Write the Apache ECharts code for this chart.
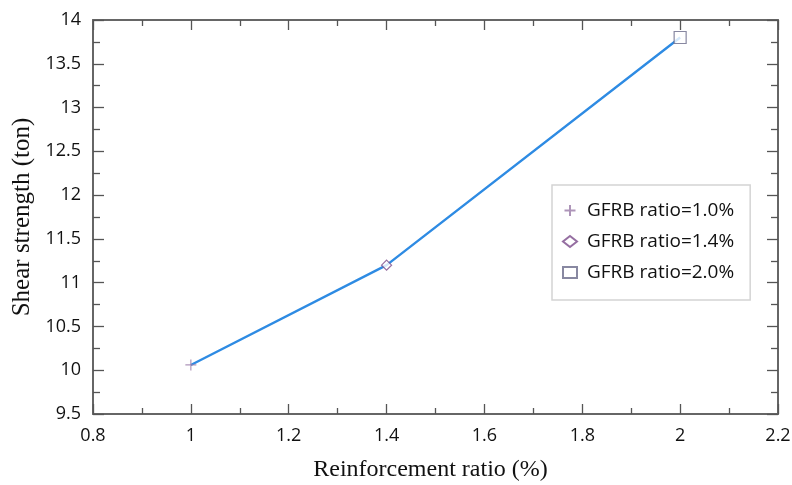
<!DOCTYPE html>
<html><head><meta charset="utf-8">
<script src="https://cdn.jsdelivr.net/npm/echarts@6/dist/echarts.min.js"></script>
<style>html,body{margin:0;padding:0;background:#fff}#c{width:792px;height:485px}</style>
</head><body><div id="c"></div>
<script>
const ratios = [1.0, 1.4, 2.0];
const strength = [10.06, 11.2, 13.8];
const seriesNames = ['GFRB ratio=1.0%', 'GFRB ratio=1.4%', 'GFRB ratio=2.0%'];
const xTitle = 'Reinforcement ratio (%)';
const yTitle = 'Shear strength (ton)';

const plusPath = 'path://M5,0L5,10M0,5L10,5';
const symbols = [plusPath, 'diamond', 'rect'];
const symColors = ['#9a7aa8', '#7a4a8a', '#6a6a8a'];
const symSizes = [11, 10, 12];

const axisLine = {show: true, lineStyle: {color: '#666', width: 2}};
const xBase = {type: 'value', min: 0.8, max: 2.2, interval: 0.2,
  axisLine: axisLine, splitLine: {show: false},
  axisTick: {show: true, inside: true, length: 10, lineStyle: {color: '#555', width: 1.3}},
  minorTick: {show: true, splitNumber: 2, length: 6, lineStyle: {color: '#555', width: 1.3}}};
const yBase = {type: 'value', min: 9.5, max: 14, interval: 0.5,
  axisLine: axisLine, splitLine: {show: false},
  axisTick: {show: true, inside: true, length: 11, lineStyle: {color: '#555', width: 1.3}},
  minorTick: {show: true, splitNumber: 2, length: 7, lineStyle: {color: '#555', width: 1.3}}};

const series = [{
  type: 'line', name: 'line', data: ratios.map((x, i) => [x, strength[i]]),
  showSymbol: false, lineStyle: {color: '#2e8be3', width: 2.4}, itemStyle: {color: '#2e8be3'},
  z: 1, silent: true
}];
ratios.forEach((x, i) => {
  series.push({
    type: 'scatter', name: seriesNames[i], data: [[x, strength[i]]],
    symbol: symbols[i], symbolSize: symSizes[i], z: 3,
    itemStyle: {color: i === 0 ? 'none' : '#fff', borderColor: symColors[i], borderWidth: 1.2}
  });
});

const chart = echarts.init(document.getElementById('c'), null, {renderer: 'canvas'});
chart.setOption({
  animation: false,
  backgroundColor: '#fff',
  grid: {left: 93, right: 14, top: 20, bottom: 71, containLabel: false, outerBoundsMode: 'none'},
  legend: {
    data: seriesNames, orient: 'vertical', left: 552, top: 185,
    width: 198, padding: [16, 16, 18, 10], itemGap: 12, itemWidth: 14, itemHeight: 11,
    borderColor: '#d4d4d4', borderWidth: 1.5, backgroundColor: '#fff',
    textStyle: {fontFamily: 'Open Sans', fontSize: 19, color: '#111', padding: [0, 0, 0, 5]}
  },
  xAxis: [
    Object.assign({}, xBase, {position: 'bottom',
      name: xTitle, nameLocation: 'middle', nameGap: 44,
      nameTextStyle: {fontFamily: 'Liberation Serif', fontSize: 24, color: '#111', padding: [0, 10, 0, 0]},
      axisLabel: {fontFamily: 'Open Sans', fontSize: 18, color: '#111', margin: 13}}),
    Object.assign({}, xBase, {position: 'top', axisLabel: {show: false}})
  ],
  yAxis: [
    Object.assign({}, yBase, {position: 'left',
      name: yTitle, nameLocation: 'middle', nameGap: 57,
      nameTextStyle: {fontFamily: 'Liberation Serif', fontSize: 25, color: '#111'},
      axisLabel: {fontFamily: 'Open Sans', fontSize: 18, color: '#111', margin: 12}}),
    Object.assign({}, yBase, {position: 'right', axisLabel: {show: false}})
  ],
  series: series
});
</script></body></html>
